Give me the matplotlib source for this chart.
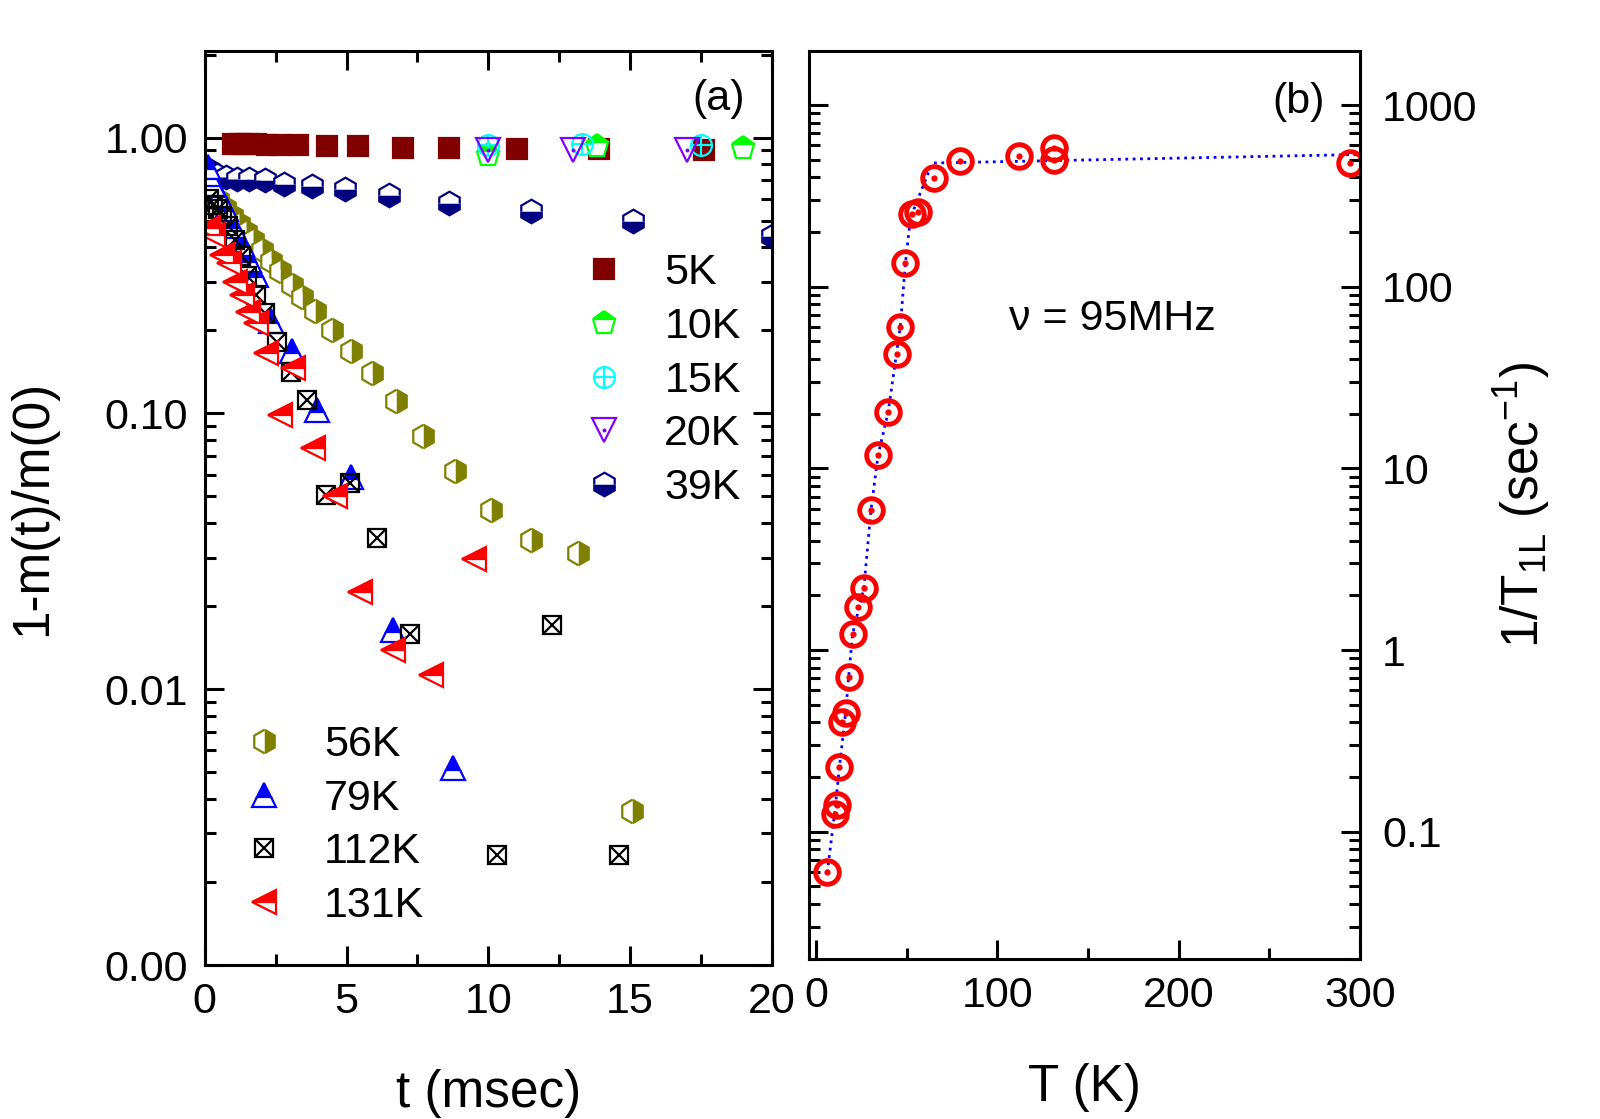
"""Two-panel figure: recovery curves 1-m(t)/m(0) and relaxation rate 1/T1L vs T."""

import matplotlib

matplotlib.use("Agg")
import matplotlib.pyplot as plt
from matplotlib.ticker import FuncFormatter, LogLocator, MultipleLocator, NullFormatter

plt.rcParams["font.family"] = ["Liberation Sans", "DejaVu Sans"]
plt.rcParams["mathtext.default"] = "regular"

# ---- panel (a): recovery data, t in msec ----
t_5K = [1.0, 1.25, 1.5, 1.8, 2.2, 2.6, 3.3, 4.3, 5.4, 7.0, 8.6, 11.0, 13.9, 17.6]
v_5K = [0.95, 0.95, 0.95, 0.95, 0.94, 0.94, 0.94, 0.93, 0.93, 0.92, 0.92, 0.91, 0.91, 0.90]

t_10K = [10.0, 13.85, 19.0]
v_10K = [0.865, 0.93, 0.915]

t_15K = [10.0, 13.3, 17.5]
v_15K = [0.94, 0.95, 0.94]

t_20K = [10.0, 13.0, 17.0]
v_20K = [0.90, 0.90, 0.90]

t_39K = [0.15, 0.3, 0.43, 0.76, 1.12, 1.55, 2.12, 2.81, 3.78, 4.93, 6.51, 8.6, 11.5, 15.1, 20.0]
v_39K = [0.76, 0.74, 0.73, 0.72, 0.71, 0.705, 0.70, 0.68, 0.67, 0.65, 0.62, 0.58, 0.54, 0.50, 0.44]

t_56K = [0.2, 0.45, 0.7, 0.95, 1.2, 1.45, 1.7, 2.0, 2.33, 2.65, 3.06, 3.43, 3.9, 4.5,
         5.15, 5.88, 6.74, 7.7, 8.82, 10.08, 11.5, 13.17, 15.07]
v_56K = [0.637, 0.596, 0.556, 0.52, 0.486, 0.455, 0.425, 0.392, 0.356, 0.327, 0.293, 0.264,
         0.236, 0.2, 0.168, 0.140, 0.111, 0.083, 0.0617, 0.0446, 0.0347, 0.0313, 0.00363]

t_79K = [0.1, 0.2, 0.3, 0.5, 0.75, 1.0, 1.3, 1.55, 1.82, 2.33, 3.06, 3.94, 5.15, 6.65, 8.74]
v_79K = [0.78, 0.72, 0.68, 0.62, 0.55, 0.48, 0.41, 0.36, 0.318, 0.216, 0.168, 0.103, 0.059,
         0.0164, 0.0052]

t_112K = [0.15, 0.3, 0.45, 0.6, 0.82, 1.06, 1.29, 1.5, 1.79, 2.14, 2.53, 3.03, 3.59, 4.29,
          5.11, 6.08, 7.23, 10.29, 12.23, 14.6]
v_112K = [0.60, 0.57, 0.55, 0.52, 0.48, 0.426, 0.371, 0.314, 0.269, 0.231, 0.1815, 0.141,
          0.112, 0.0508, 0.056, 0.0352, 0.0158, 0.0025, 0.0171, 0.0025]

t_131K = [0.1, 0.3, 0.59, 0.85, 1.06, 1.3, 1.53, 1.8, 2.17, 2.64, 3.11, 3.82, 4.59, 5.47,
          6.65, 7.99, 9.5]
v_131K = [0.47, 0.444, 0.376, 0.35, 0.3, 0.269, 0.234, 0.213, 0.166, 0.099, 0.146, 0.075,
          0.050, 0.0226, 0.0139, 0.0113, 0.0297]

# ---- panel (b): relaxation rate vs temperature ----
T_K = [6.1, 10.1, 11.7, 12.8, 14.5, 16.2, 17.9, 20.1, 22.9, 26.3, 30.2, 34.1, 39.7, 44.7,
       46.4, 49.2, 53.1, 56.4, 64.8, 79.3, 111.7, 131.3, 131.3, 294.4]
rate = [0.0596, 0.125, 0.14, 0.226, 0.40, 0.449, 0.714, 1.23, 1.72, 2.2, 5.89, 11.8, 20.4,
        42.6, 60.4, 134.6, 250, 257, 399, 491, 524, 581, 497, 479]

# dotted guide line
T_guide = [6.1, 10.1, 12.8, 16.2, 17.9, 20.1, 26.3, 30.2, 34.1, 39.7, 46.4, 49.2, 52.0,
           64.0, 300.0]
rate_guide = [0.0596, 0.125, 0.226, 0.449, 0.714, 1.23, 2.2, 5.89, 11.8, 20.4, 60.4,
              134.6, 240, 480, 535]

FS_TICK = 31
FS_LABEL = 37
FS_TEXT = 31
LW = 2.2

fig = plt.figure(figsize=(16, 11.19), dpi=100)
ax1 = fig.add_axes([0.128, 0.1376, 0.3544, 0.8168])
ax2 = fig.add_axes([0.5056, 0.143, 0.3444, 0.8114])

# ---- panel (a) ----
mk = dict(ls="none", mew=1.6)
h5, = ax1.plot(t_5K, v_5K, "s", ms=14, color="#800000", **mk)
h10, = ax1.plot(t_10K, v_10K, "p", ms=17, color="#00ff00", fillstyle="top",
                markerfacecoloralt="white", **mk)
h15a, = ax1.plot(t_15K, v_15K, "o", ms=15, mfc="none", mec="#00ffff", **mk)
h15b, = ax1.plot(t_15K, v_15K, "+", ms=15, color="#00ffff", **mk)
h20a, = ax1.plot(t_20K, v_20K, "v", ms=17, mfc="none", mec="#8000ff", **mk)
h20b, = ax1.plot(t_20K, v_20K, ".", ms=2.5, color="#8000ff", **mk)
h39, = ax1.plot(t_39K, v_39K, "h", ms=17, color="#000080", fillstyle="bottom",
                markerfacecoloralt="white", **mk)
h56, = ax1.plot(t_56K, v_56K, "h", ms=17, color="#808000", fillstyle="right",
                markerfacecoloralt="white", **mk)
h79, = ax1.plot(t_79K, v_79K, "^", ms=17, color="#0000ff", fillstyle="top",
                markerfacecoloralt="white", **mk)
h112a, = ax1.plot(t_112K, v_112K, "s", ms=13, mfc="none", mec="black", **mk)
h112b, = ax1.plot(t_112K, v_112K, "x", ms=13, color="black", **mk)
h131, = ax1.plot(t_131K, v_131K, "<", ms=17, color="#ff0000", fillstyle="top",
                 markerfacecoloralt="white", **mk)

ax1.set_xlim(0, 20)
ax1.set_yscale("log")
ax1.set_ylim(0.001, 2.06)
ax1.xaxis.set_major_locator(MultipleLocator(5))
ax1.xaxis.set_minor_locator(MultipleLocator(2.5))
ax1.yaxis.set_major_locator(LogLocator(base=10, numticks=10))
ax1.yaxis.set_minor_locator(LogLocator(base=10, subs=range(2, 10), numticks=20))
ax1.yaxis.set_major_formatter(FuncFormatter(lambda v, p: f"{v:.2f}"))
ax1.yaxis.set_minor_formatter(NullFormatter())
ax1.tick_params(which="both", direction="in", top=True, right=True, width=LW,
                labelsize=FS_TICK, pad=12)
ax1.tick_params(which="major", length=14)
ax1.tick_params(which="minor", length=8)
ax1.set_xlabel("t (msec)", fontsize=FS_LABEL, labelpad=34)
ax1.set_ylabel("1-m(t)/m(0)", fontsize=FS_LABEL, labelpad=34)
ax1.text(0.906, 0.9475, "(a)", transform=ax1.transAxes, fontsize=FS_TEXT,
         ha="center", va="center")

leg_kw = dict(frameon=False, fontsize=FS_TEXT, borderpad=0, borderaxespad=0,
              handlelength=1.0, handletextpad=0.9, labelspacing=0.32, markerscale=1.0,
              loc="upper left")
leg1 = ax1.legend([h5, h10, (h15a, h15b), (h20a, h20b), h39],
                  ["5K", "10K", "15K", "20K", "39K"],
                  bbox_to_anchor=(0.666, 0.779), **leg_kw)
ax1.add_artist(leg1)
ax1.legend([h56, h79, (h112a, h112b), h131], ["56K", "79K", "112K", "131K"],
           bbox_to_anchor=(0.066, 0.2627), **leg_kw)

# ---- panel (b) ----
ax2.plot(T_guide, rate_guide, ":", color="#0000ff", lw=2)
ax2.plot(T_K, rate, "o", ms=17, mfc="none", mec="#ff0000", mew=3.5, ls="none")
ax2.plot(T_K, rate, "o", ms=3.5, color="#ff0000", ls="none")

ax2.set_xlim(-4, 300)
ax2.set_yscale("log")
ax2.set_ylim(0.0199, 1986)
ax2.xaxis.set_major_locator(MultipleLocator(100))
ax2.xaxis.set_minor_locator(MultipleLocator(50))
ax2.yaxis.set_major_locator(LogLocator(base=10, numticks=10))
ax2.yaxis.set_minor_locator(LogLocator(base=10, subs=range(2, 10), numticks=20))
ax2.yaxis.set_major_formatter(FuncFormatter(lambda v, p: f"{v:g}"))
ax2.yaxis.set_minor_formatter(NullFormatter())
ax2.tick_params(which="both", direction="in", left=True, right=True, top=False,
                labelleft=False, labelright=True, width=LW, labelsize=FS_TICK, pad=12)
ax2.tick_params(axis="y", which="both", pad=16)
ax2.tick_params(which="major", length=14)
ax2.tick_params(which="minor", length=8)
ax2.yaxis.set_label_position("right")
ax2.set_xlabel("T (K)", fontsize=FS_LABEL, labelpad=34)
ax2.set_ylabel("1/T$_{1L}$ (sec$^{-1}$)", fontsize=FS_LABEL, labelpad=10)
ax2.text(0.889, 0.944, "(b)", transform=ax2.transAxes, fontsize=FS_TEXT,
         ha="center", va="center")
ax2.text(0.55, 0.7045, "\u03bd = 95MHz", transform=ax2.transAxes, fontsize=FS_TEXT,
         ha="center", va="center")

for ax in (ax1, ax2):
    for sp in ax.spines.values():
        sp.set_linewidth(LW)

fig.savefig("out.png", dpi=100)
